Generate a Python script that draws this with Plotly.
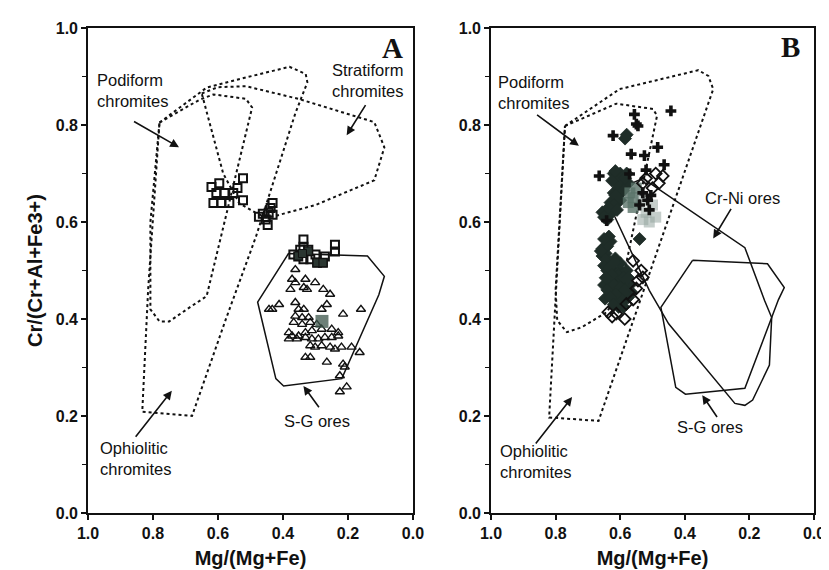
import plotly.graph_objects as go

# ---------------- data ----------------
# Panel A field outlines
ophio_A_x = [0.78, 0.635, 0.514, 0.38, 0.33, 0.325, 0.362, 0.483, 0.574, 0.68, 0.833, 0.815, 0.78]
ophio_A_y = [0.805, 0.877, 0.898, 0.92, 0.905, 0.888, 0.824, 0.57, 0.403, 0.20, 0.209, 0.46, 0.805]
podi_A_x = [0.78, 0.657, 0.614, 0.514, 0.495, 0.635, 0.687, 0.75, 0.78, 0.808, 0.808, 0.78]
podi_A_y = [0.805, 0.852, 0.863, 0.854, 0.836, 0.447, 0.424, 0.395, 0.395, 0.42, 0.60, 0.805]
strat_A_x = [0.65, 0.60, 0.514, 0.353, 0.119, 0.088, 0.119, 0.30, 0.432, 0.474, 0.535, 0.584, 0.65]
strat_A_y = [0.865, 0.878, 0.88, 0.854, 0.806, 0.754, 0.686, 0.635, 0.611, 0.615, 0.639, 0.70, 0.865]
sg_A_x = [0.383, 0.14, 0.088, 0.105, 0.219, 0.398, 0.422, 0.478, 0.383]
sg_A_y = [0.535, 0.53, 0.488, 0.45, 0.277, 0.262, 0.277, 0.435, 0.535]

# Panel B field outlines
ophio_B_x = [0.771, 0.602, 0.358, 0.327, 0.312, 0.667, 0.82, 0.80, 0.771]
ophio_B_y = [0.798, 0.874, 0.913, 0.901, 0.874, 0.19, 0.197, 0.45, 0.798]
podi_B_x = [0.771, 0.612, 0.498, 0.486, 0.60, 0.642, 0.719, 0.765, 0.795, 0.80, 0.771]
podi_B_y = [0.798, 0.844, 0.833, 0.819, 0.455, 0.414, 0.383, 0.373, 0.397, 0.46, 0.798]
sg_B_x = [0.376, 0.144, 0.092, 0.11, 0.214, 0.398, 0.428, 0.474, 0.376]
sg_B_y = [0.521, 0.514, 0.465, 0.44, 0.257, 0.245, 0.259, 0.424, 0.521]
crni_B_x = [0.53, 0.214, 0.153, 0.131, 0.138, 0.19, 0.214, 0.245, 0.45, 0.51, 0.618, 0.58, 0.53]
crni_B_y = [0.69, 0.547, 0.438, 0.403, 0.305, 0.233, 0.222, 0.226, 0.39, 0.459, 0.613, 0.675, 0.69]

# Panel A samples
sq_A_x = [0.62, 0.596, 0.58, 0.553, 0.523, 0.523, 0.614, 0.59, 0.565, 0.605, 0.54,
          0.474, 0.453, 0.447, 0.438, 0.432, 0.432, 0.444, 0.462,
          0.337, 0.337, 0.347, 0.322, 0.368, 0.353, 0.337, 0.295, 0.271, 0.277, 0.24, 0.24, 0.316, 0.30]
sq_A_y = [0.672, 0.68, 0.66, 0.66, 0.69, 0.645, 0.639, 0.639, 0.639, 0.66, 0.67,
          0.611, 0.605, 0.594, 0.629, 0.639, 0.615, 0.619, 0.617,
          0.564, 0.549, 0.543, 0.543, 0.533, 0.529, 0.523, 0.516, 0.529, 0.516, 0.553, 0.539, 0.523, 0.533]
sqf_A_x = [0.353, 0.322, 0.295, 0.277, 0.34]
sqf_A_y = [0.53, 0.54, 0.516, 0.516, 0.535]
tri_A_x = [0.362, 0.372, 0.362, 0.377, 0.331, 0.336, 0.326, 0.301, 0.276, 0.255, 0.443, 0.412, 0.433,
           0.362, 0.352, 0.336, 0.362, 0.341, 0.321, 0.265, 0.281, 0.215, 0.16, 0.367, 0.341, 0.316,
           0.296, 0.382, 0.372, 0.352, 0.331, 0.311, 0.281, 0.25, 0.23, 0.382, 0.357, 0.331, 0.311,
           0.291, 0.271, 0.25, 0.23, 0.316, 0.301, 0.281, 0.255, 0.24, 0.22, 0.189, 0.164, 0.331,
           0.316, 0.265, 0.215, 0.225, 0.21, 0.225, 0.204]
tri_A_y = [0.502, 0.482, 0.475, 0.461, 0.482, 0.465, 0.461, 0.475, 0.461, 0.451, 0.42, 0.43, 0.42,
           0.434, 0.42, 0.42, 0.406, 0.403, 0.403, 0.43, 0.42, 0.41, 0.42, 0.393, 0.389, 0.393,
           0.389, 0.372, 0.365, 0.365, 0.372, 0.376, 0.379, 0.379, 0.372, 0.359, 0.359, 0.362, 0.359,
           0.359, 0.362, 0.362, 0.365, 0.345, 0.342, 0.345, 0.342, 0.338, 0.342, 0.342, 0.331, 0.321,
           0.321, 0.311, 0.307, 0.283, 0.301, 0.25, 0.26]
blob_A_x = [0.28]
blob_A_y = [0.395]

# Panel B samples
plus_B_x = [0.556, 0.55, 0.443, 0.622, 0.566, 0.525, 0.484, 0.464, 0.665, 0.571, 0.52, 0.642, 0.545,
            0.53, 0.515, 0.505, 0.51, 0.54]
plus_B_y = [0.822, 0.802, 0.829, 0.778, 0.74, 0.737, 0.754, 0.718, 0.695, 0.699, 0.707, 0.603, 0.798,
            0.66, 0.645, 0.655, 0.625, 0.635]
dia_B_x = [0.49, 0.468, 0.52, 0.48, 0.50, 0.53, 0.56, 0.535, 0.53, 0.545, 0.55, 0.637, 0.612, 0.586,
           0.581, 0.56, 0.625]
dia_B_y = [0.70, 0.695, 0.69, 0.68, 0.67, 0.68, 0.52, 0.50, 0.486, 0.479, 0.463, 0.414, 0.411, 0.40,
           0.431, 0.44, 0.405]
dark_B_x = [0.58, 0.585, 0.54, 0.647,
            0.62, 0.60, 0.61, 0.59, 0.62, 0.60, 0.63, 0.61, 0.64, 0.625, 0.645, 0.58, 0.575, 0.655,
            0.615, 0.595, 0.625, 0.605, 0.59, 0.615, 0.60, 0.62, 0.635, 0.61, 0.65, 0.64, 0.585,
            0.64, 0.645, 0.63, 0.635, 0.62, 0.64, 0.60, 0.58, 0.61, 0.63, 0.59, 0.57, 0.61, 0.63,
            0.60, 0.58, 0.62, 0.60, 0.585, 0.65, 0.60, 0.615, 0.565, 0.655,
            0.65, 0.635, 0.62, 0.605, 0.59, 0.625, 0.645, 0.575, 0.62, 0.60, 0.585, 0.64, 0.575,
            0.595, 0.615, 0.63, 0.605, 0.59, 0.62, 0.655, 0.645, 0.635, 0.65, 0.66]
dark_B_y = [0.78, 0.772, 0.565, 0.442,
            0.70, 0.70, 0.68, 0.685, 0.66, 0.66, 0.64, 0.64, 0.625, 0.62, 0.615, 0.70, 0.68, 0.62,
            0.705, 0.69, 0.685, 0.67, 0.665, 0.655, 0.645, 0.635, 0.63, 0.625, 0.61, 0.605, 0.69,
            0.55, 0.535, 0.56, 0.52, 0.50, 0.50, 0.50, 0.50, 0.48, 0.48, 0.47, 0.47, 0.46, 0.46,
            0.45, 0.45, 0.44, 0.43, 0.44, 0.47, 0.515, 0.525, 0.455, 0.545,
            0.51, 0.505, 0.515, 0.49, 0.485, 0.49, 0.485, 0.485, 0.47, 0.465, 0.46, 0.46, 0.445,
            0.44, 0.45, 0.445, 0.425, 0.425, 0.43, 0.53, 0.55, 0.57, 0.565, 0.54]
grey_B_x = [0.57, 0.56, 0.575, 0.55, 0.56]
grey_B_y = [0.66, 0.65, 0.64, 0.67, 0.63]
light_B_x = [0.52, 0.51, 0.53, 0.50, 0.49, 0.535]
light_B_y = [0.62, 0.60, 0.605, 0.635, 0.61, 0.645]

# arrows: (tail x, tail y, head x, head y)
arrows_A = [(0.863, 0.809, 0.72, 0.754), (0.143, 0.844, 0.204, 0.779),
            (0.286, 0.215, 0.337, 0.262), (0.857, 0.154, 0.742, 0.252)]
arrows_B = [(0.862, 0.823, 0.728, 0.757), (0.254, 0.63, 0.312, 0.566),
            (0.297, 0.195, 0.346, 0.243), (0.865, 0.14, 0.749, 0.239)]

tick_vals = [0.0, 0.2, 0.4, 0.6, 0.8, 1.0]
tick_text = ["0.0", "0.2", "0.4", "0.6", "0.8", "1.0"]

# ---------------- figure ----------------
SANS = "Liberation Sans, Arial, sans-serif"
SERIF = "Liberation Serif, Times New Roman, serif"
INK = "#111111"

fig = go.Figure()

def outline(x, y, xa, ya, dotted):
    fig.add_trace(go.Scatter(
        x=x, y=y, xaxis=xa, yaxis=ya, mode="lines",
        line=dict(color=INK, width=2.0 if dotted else 1.5, dash="dot" if dotted else "solid"),
        hoverinfo="skip", showlegend=False))

def points(x, y, xa, ya, symbol, size, color, lw=1.5, lcolor=INK):
    fig.add_trace(go.Scatter(
        x=x, y=y, xaxis=xa, yaxis=ya, mode="markers",
        marker=dict(symbol=symbol, size=size, color=color, line=dict(color=lcolor, width=lw)),
        showlegend=False))

# Panel A
outline(ophio_A_x, ophio_A_y, "x", "y", True)
outline(podi_A_x, podi_A_y, "x", "y", True)
outline(strat_A_x, strat_A_y, "x", "y", True)
outline(sg_A_x, sg_A_y, "x", "y", False)
points(tri_A_x, tri_A_y, "x", "y", "triangle-up-open", 8, INK, 1.4)
points(sq_A_x, sq_A_y, "x", "y", "square-open", 8, INK, 2)
points(sqf_A_x, sqf_A_y, "x", "y", "square", 8, "#2a3631", 1)
points(blob_A_x, blob_A_y, "x", "y", "square", 13, "rgba(60,85,75,0.75)", 0, "rgba(0,0,0,0)")

# Panel B
outline(ophio_B_x, ophio_B_y, "x2", "y2", True)
outline(podi_B_x, podi_B_y, "x2", "y2", True)
outline(sg_B_x, sg_B_y, "x2", "y2", False)
outline(crni_B_x, crni_B_y, "x2", "y2", False)
points(light_B_x, light_B_y, "x2", "y2", "square", 11, "rgba(150,165,160,0.55)", 0, "rgba(0,0,0,0)")
points(dark_B_x, dark_B_y, "x2", "y2", "diamond", 10, "#1f2d28", 0.8, "#1f2d28")
points(grey_B_x, grey_B_y, "x2", "y2", "square", 11, "rgba(90,115,105,0.8)", 0, "rgba(0,0,0,0)")
points(dia_B_x, dia_B_y, "x2", "y2", "diamond-open", 9, INK, 1.8)
points(plus_B_x, plus_B_y, "x2", "y2", "cross", 9, INK, 0)

annotations = []

def arrow(a, xr, yr):
    tx, ty, hx, hy = a
    annotations.append(dict(x=hx, y=hy, ax=tx, ay=ty, xref=xr, yref=yr, axref=xr, ayref=yr,
                            text="", showarrow=True, arrowhead=2, arrowsize=1.1,
                            arrowwidth=1.6, arrowcolor=INK))

def label(text, x, y, xr, yr, xanchor="left", align="left", size=16.5, family=SANS, weight="normal"):
    annotations.append(dict(x=x, y=y, xref=xr, yref=yr, text=text, showarrow=False,
                            xanchor=xanchor, yanchor="middle", align=align,
                            font=dict(family=family, size=size, color=INK, weight=weight)))

for a in arrows_A:
    arrow(a, "x", "y")
for a in arrows_B:
    arrow(a, "x2", "y2")

label("Podiform<br>chromites", 0.979, 0.871, "x", "y")
label("Stratiform<br>chromites", 0.021, 0.891, "x", "y", xanchor="right", align="right")
label("S-G ores", 0.295, 0.189, "x", "y", xanchor="center", align="center")
label("Ophiolitic<br>chromites", 0.97, 0.113, "x", "y")
label("A", 0.064, 0.959, "x", "y", xanchor="center", align="center", size=29, family=SERIF,
      weight="bold")

label("Podiform<br>chromites", 0.985, 0.868, "x2", "y2")
label("Cr-Ni ores", 0.22, 0.65, "x2", "y2", xanchor="center", align="center")
label("S-G ores", 0.321, 0.177, "x2", "y2", xanchor="center", align="center")
label("Ophiolitic<br>chromites", 0.979, 0.107, "x2", "y2")
label("B", 0.073, 0.961, "x2", "y2", xanchor="center", align="center", size=29, family=SERIF,
      weight="bold")

TICKFONT = dict(family=SANS, size=16, color=INK, weight="bold")
xcommon = dict(range=[1.0, 0.0], tickvals=tick_vals, ticktext=tick_text, ticks="outside",
               ticklen=5, tickwidth=1.5, tickcolor=INK, showline=True, linecolor=INK,
               linewidth=1.6, mirror=True, showgrid=False, zeroline=False,
               tickfont=TICKFONT,
               title=dict(text="Mg/(Mg+Fe)",
                          font=dict(family=SANS, size=20, color=INK, weight="bold"),
                          standoff=10))
ycommon = dict(range=[0.0, 1.0], tickvals=tick_vals, ticktext=tick_text, ticks="outside",
               ticklen=5, tickwidth=1.5, tickcolor=INK, showline=True, linecolor=INK,
               linewidth=1.6, mirror=True, showgrid=False, zeroline=False,
               tickfont=TICKFONT,
               minor=dict(tickvals=[0.1, 0.3, 0.5, 0.7, 0.9], ticks="outside", ticklen=4,
                          tickwidth=1.2, tickcolor=INK, showgrid=False))

fig.update_layout(
    width=829, height=570,
    margin=dict(l=80, r=14, t=17, b=65),
    paper_bgcolor="white", plot_bgcolor="white",
    showlegend=False,
    font=dict(family=SANS, color=INK),
    xaxis=dict(domain=[0.0, 0.4476], anchor="y", **xcommon),
    yaxis=dict(domain=[0.0, 1.0], anchor="x",
               title=dict(text="Cr/(Cr+Al+Fe3+)",
                          font=dict(family=SANS, size=20, color=INK, weight="bold"), standoff=8),
               **ycommon),
    xaxis2=dict(domain=[0.5551, 1.0], anchor="y2", **xcommon),
    yaxis2=dict(domain=[0.0, 1.0], anchor="x2", **ycommon),
    annotations=annotations,
)

fig.write_html("out.html")
